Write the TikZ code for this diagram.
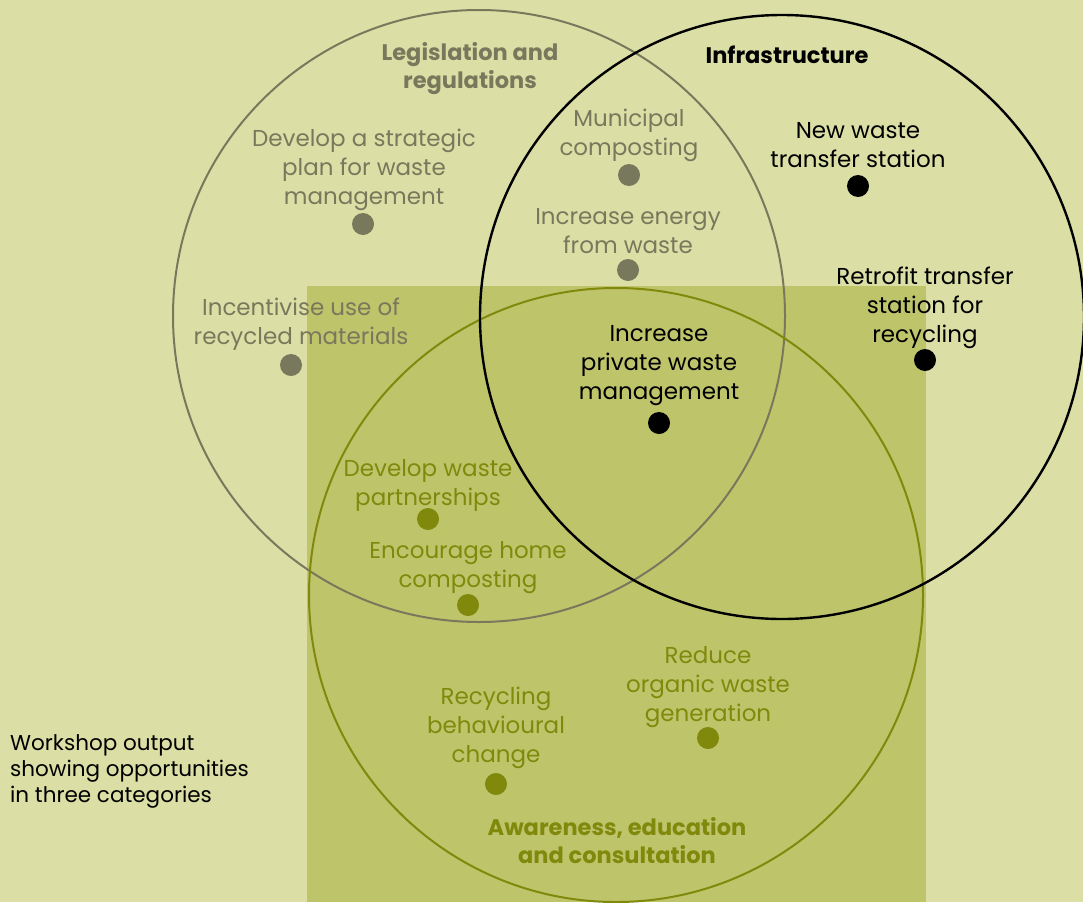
\documentclass[tikz,border=0pt]{standalone}
\usepackage{fontspec}
\setmainfont{Poppins}
\usetikzlibrary{positioning}
\definecolor{paper}{RGB}{219,223,165}
\definecolor{patch}{RGB}{190,196,106}
\definecolor{lawgray}{RGB}{120,121,92}
\definecolor{olive}{RGB}{128,137,12}
\definecolor{ink}{RGB}{0,0,0}
\tikzset{
  ring/.style={line width=2pt},
  opp/.style={align=center,inner sep=0pt,yshift=-2.5pt,font=\fontsize{23}{29}\selectfont},
  head/.style={opp,font=\fontsize{22.5}{28.5}\selectfont\bfseries},
  spot/.style={circle,minimum size=22pt,inner sep=0pt}
}

\begin{document}
\begin{tikzpicture}[x=1pt,y=-1pt]
  % page and shaded patch
  \useasboundingbox (0,0) rectangle (1083,902);
  \fill[paper] (0,0) rectangle (1083,902);
  \fill[patch] (307,286) rectangle (926,902);

  % the three categories
  \draw[ring,lawgray] (479,316) circle (306);
  \draw[ring,olive] (616,595) circle (307);
  \draw[ring,ink,line width=2.4pt] (782,317) circle (302);

  \node[head,text=lawgray] (lawtitle) at (470,66) {Legislation and\\regulations};
  \node[head,text=ink] (infratitle) at (787,52) {Infrastructure};
  \node[head,text=olive] (awaretitle) at (617,838) {Awareness, education\\and consultation};

  % legislation and regulations
  \node[spot,fill=lawgray] (strategicdot) at (363,224) {};
  \node[opp,text=lawgray] (strategic) at (364,167) {Develop a strategic\\plan for waste\\management};
  \node[spot,fill=lawgray] (incentivedot) at (291,365) {};
  \node[opp,text=lawgray] (incentive) at (301,322) {Incentivise use of\\recycled materials};
  \node[spot,fill=lawgray] (municipaldot) at (629,175) {};
  \node[opp,text=lawgray] (municipal) at (629,133) {Municipal\\composting};
  \node[spot,fill=lawgray] (energydot) at (628,270) {};
  \node[opp,text=lawgray] (energy) at (628,229) {Increase energy\\from waste};

  % infrastructure
  \node[spot,fill=ink] (newstationdot) at (858,186) {};
  \node[opp,text=ink] (newstation) at (858,143) {New waste\\transfer station};
  \node[spot,fill=ink] (retrofitdot) at (925,360) {};
  \node[opp,text=ink] (retrofit) at (925,305) {Retrofit transfer\\station for\\recycling};
  \node[spot,fill=ink] (privatedot) at (659,423) {};
  \node[opp,text=ink] (private) at (659,363) {Increase\\private waste\\management};

  % awareness, education and consultation
  \node[spot,fill=olive] (partnerdot) at (428,519) {};
  \node[opp,text=olive] (partner) at (428,483) {Develop waste\\partnerships};
  \node[spot,fill=olive] (homecompdot) at (468,605) {};
  \node[opp,text=olive] (homecomp) at (468,565) {Encourage home\\composting};
  \node[spot,fill=olive] (organicdot) at (708,738) {};
  \node[opp,text=olive] (organic) at (708,685) {Reduce\\organic waste\\generation};
  \node[spot,fill=olive] (behaviourdot) at (496,784) {};
  \node[opp,text=olive] (behaviour) at (496,725) {Recycling\\behavioural\\change};

  % caption
  \node[opp,align=left,anchor=west,text=ink,font=\fontsize{21.5}{26}\selectfont] (caption) at (10,769) {Workshop output\\showing opportunities\\in three categories};
\end{tikzpicture}
\end{document}
